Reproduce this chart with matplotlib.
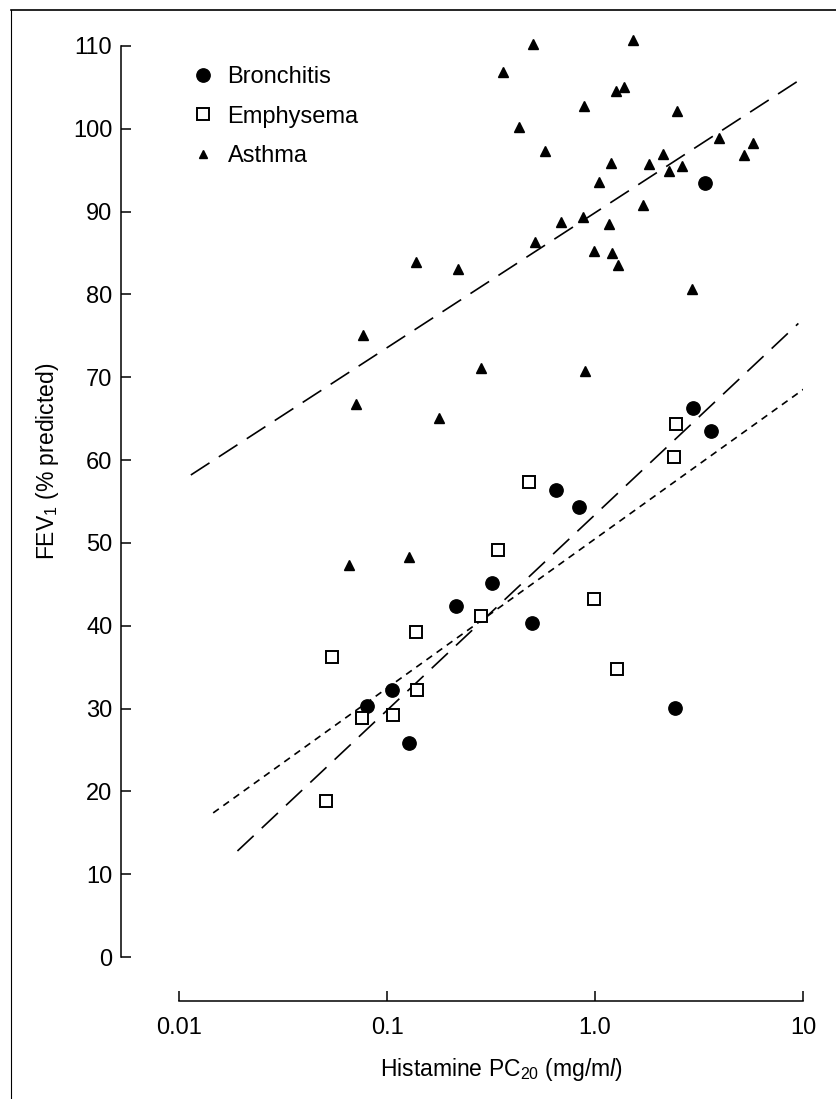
import matplotlib
matplotlib.use("Agg")
import matplotlib.pyplot as plt
from matplotlib.lines import Line2D

plt.rcParams['font.family'] = ['Liberation Sans', 'DejaVu Sans']
plt.rcParams['mathtext.fontset'] = 'custom'
plt.rcParams['mathtext.rm'] = 'Liberation Sans'
plt.rcParams['mathtext.it'] = 'Liberation Sans:italic'
plt.rcParams['lines.scale_dashes'] = False

# bronchitis (filled circles)
bron_x = [3.37, 2.95, 3.61, 0.652, 0.835, 0.319, 0.215, 0.50, 2.42, 0.128, 0.080, 0.106]
bron_y = [93.5, 66.3, 63.5, 56.4, 54.3, 45.2, 42.4, 40.3, 30.1, 25.8, 30.3, 32.2]

# emphysema (open squares)
emph_x = [2.44, 2.39, 0.483, 0.343, 0.993, 0.283, 0.138, 1.28, 0.140, 0.0546, 0.0755, 0.107, 0.0509]
emph_y = [64.4, 60.4, 57.4, 49.2, 43.2, 41.2, 39.3, 34.8, 32.2, 36.2, 28.9, 29.2, 18.8]

# asthma (filled triangles)
asth_x = [0.501, 1.53, 0.36, 1.26, 1.38, 0.883, 2.48, 0.43, 0.577, 3.96, 5.77, 5.22,
          2.12, 1.19, 1.82, 2.28, 2.63, 1.04, 1.71, 0.689, 0.875, 1.17, 0.513, 0.99,
          1.21, 1.29, 0.138, 0.22, 2.93, 0.284, 0.895, 0.178, 0.0767, 0.071, 0.0659, 0.127]
asth_y = [110.3, 110.7, 106.9, 104.6, 105.1, 102.8, 102.1, 100.2, 97.3, 98.9, 98.3, 96.8,
          96.9, 95.9, 95.7, 94.9, 95.5, 93.6, 90.8, 88.8, 89.3, 88.5, 86.3, 85.3,
          85.0, 83.6, 83.9, 83.1, 80.7, 71.1, 70.7, 65.1, 75.1, 66.8, 47.3, 48.3]

# regression lines (end points)
asth_fit_x = [0.0114, 9.5]
asth_fit_y = [58.2, 105.8]
bron_fit_x = [0.0191, 9.5]
bron_fit_y = [12.8, 76.5]
emph_fit_x = [0.0146, 10.25]
emph_fit_y = [17.4, 68.7]

fig = plt.figure(figsize=(8.36, 10.99), dpi=100)
ax = fig.add_axes([179 / 836, 142 / 1099, 624 / 836, 911 / 1099])

ax.plot(asth_fit_x, asth_fit_y, color='black', lw=1.2, linestyle=(0, (16, 8)))
ax.plot(bron_fit_x, bron_fit_y, color='black', lw=1.2, linestyle=(0, (16, 8)))
ax.plot(emph_fit_x, emph_fit_y, color='black', lw=1.2, linestyle=(0, (5, 4)))

ax.plot(bron_x, bron_y, 'o', color='black', markersize=9.6, clip_on=False, zorder=3)
ax.plot(emph_x, emph_y, 's', markerfacecolor='white', markeredgecolor='black',
        markersize=8.4, markeredgewidth=1.4, clip_on=False, zorder=3)
ax.plot(asth_x, asth_y, '^', color='black', markersize=7, clip_on=False, zorder=3)

ax.set_xscale('log')
ax.set_xlim(0.01, 10)
ax.set_ylim(0, 110)
ax.set_xticks([0.01, 0.1, 1, 10])
ax.set_xticklabels(['0.01', '0.1', '1.0', '10'])
ax.minorticks_off()
ax.set_yticks(range(0, 111, 10))

ax.spines['top'].set_visible(False)
ax.spines['right'].set_visible(False)
ax.spines['left'].set_position(('outward', 42))
ax.spines['bottom'].set_position(('outward', 32))
ax.spines['left'].set_linewidth(1.1)
ax.spines['bottom'].set_linewidth(1.1)
ax.tick_params(direction='in', length=7.2, width=1.1, labelsize=17)
ax.tick_params(axis='y', pad=6)
ax.tick_params(axis='x', pad=11)

ax.set_ylabel('FEV$_1$ (% predicted)', fontsize=16.5, va='center')
ax.yaxis.set_label_coords(-0.2115, 0.5445)
ax.set_xlabel('Histamine PC$_{20}$ (mg/m$\\it{l}$)', fontsize=16.5, va='center')
ax.xaxis.set_label_coords(0.516, -0.123)

handles = [Line2D([], [], marker='o', color='black', linestyle='none', markersize=9.6),
           Line2D([], [], marker='s', markerfacecolor='white', markeredgecolor='black',
                  linestyle='none', markersize=8.4, markeredgewidth=1.4),
           Line2D([], [], marker='^', color='black', linestyle='none', markersize=6)]
ax.legend(handles, ['Bronchitis', 'Emphysema', 'Asthma'], loc='upper left',
          bbox_to_anchor=(0.021, 0.978), frameon=False, fontsize=17,
          borderaxespad=0, borderpad=0, handlelength=0.95, handletextpad=0.55,
          labelspacing=0.74)

# page frame of the scanned figure
fig.add_artist(Line2D([11 / 836, 11 / 836], [0, 1 - 10 / 1099], color='black', lw=0.8))
fig.add_artist(Line2D([11 / 836, 1], [1 - 10 / 1099, 1 - 10 / 1099], color='black', lw=1.2))

fig.savefig('out.png', dpi=100)
